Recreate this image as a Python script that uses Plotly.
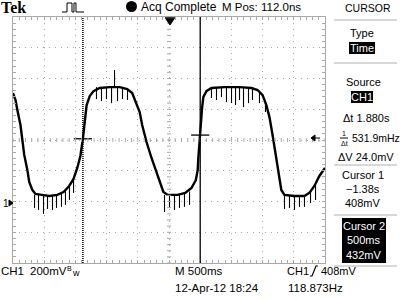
import plotly.graph_objects as go

# ---------------- data (seconds, volts) ----------------
trace_t = [-2.50, -2.46, -2.43, -2.38, -2.35, -2.32, -2.27, -2.24, -2.19, -2.14,
           -2.04, -1.92, -1.79, -1.69, -1.60, -1.53, -1.47, -1.42, -1.38, -1.35,
           -1.32, -1.27, -1.21, -1.11, -0.95, -0.79, -0.67, -0.59, -0.52, -0.47,
           -0.43, -0.36, -0.28, -0.20, -0.14, -0.09, -0.02, 0.14, 0.26, 0.36,
           0.43, 0.46, 0.47, 0.49, 0.50, 0.51, 0.53, 0.55, 0.60, 0.68,
           0.89, 1.13, 1.32, 1.42, 1.50, 1.56, 1.61, 1.66, 1.71, 1.76,
           1.80, 1.85, 2.01, 2.17, 2.25, 2.33, 2.41, 2.50]
trace_v = [0.705, 0.660, 0.595, 0.497, 0.400, 0.303, 0.205, 0.127, 0.075, 0.049,
           0.043, 0.036, 0.043, 0.062, 0.101, 0.147, 0.218, 0.296, 0.408, 0.530,
           0.627, 0.686, 0.718, 0.738, 0.744, 0.744, 0.731, 0.705, 0.640, 0.582,
           0.497, 0.387, 0.283, 0.192, 0.114, 0.062, 0.043, 0.043, 0.056, 0.088,
           0.140, 0.205, 0.283, 0.400, 0.432, 0.520, 0.608, 0.679, 0.718, 0.738,
           0.744, 0.744, 0.738, 0.725, 0.692, 0.627, 0.549, 0.432, 0.303, 0.173,
           0.075, 0.043, 0.036, 0.036, 0.056, 0.101, 0.166, 0.218]

# glitch spikes: time, start level, end level
spike_t = [-2.155, -2.091, -2.011, -1.947, -1.867, -1.803, -1.723, -1.659, -1.595, -1.530,
           -1.162, -1.082, -1.002, -0.921, -0.825, -0.745, -0.665, -0.873,
           -0.072, 0.008, 0.088, 0.168, 0.248, 0.329,
           0.681, 0.761, 0.841, 0.921, 1.002, 1.066, 1.130, 1.194, 1.274, 1.338, 1.450, 1.546,
           1.851, 1.931, 2.011, 2.091, 2.171, 2.268, 2.348]
spike_v0 = [0.043, 0.043, 0.043, 0.043, 0.043, 0.043, 0.050, 0.075, 0.101, 0.147,
            0.744, 0.744, 0.744, 0.744, 0.744, 0.744, 0.731, 0.744,
            0.043, 0.043, 0.043, 0.043, 0.050, 0.065,
            0.744, 0.744, 0.744, 0.744, 0.744, 0.744, 0.744, 0.744, 0.744, 0.744, 0.712, 0.640,
            0.036, 0.036, 0.036, 0.036, 0.036, 0.062, 0.114]
spike_v1 = [-0.042, -0.055, -0.081, -0.049, -0.055, -0.042, -0.035, -0.022, 0.010, 0.056,
            0.666, 0.653, 0.666, 0.640, 0.653, 0.666, 0.660, 0.855,
            -0.068, -0.042, -0.055, -0.042, -0.035, -0.022,
            0.673, 0.660, 0.679, 0.647, 0.640, 0.627, 0.660, 0.614, 0.640, 0.660, 0.640, 0.582,
            -0.048, -0.042, -0.055, -0.035, -0.035, -0.010, 0.010]

cursor_t = [-1.38, 0.50]
cursor_v = [0.408, 0.432]

# ---------------- geometry helpers (pixel -> paper) ----------------
L, R, T, B = 13, 325, 17, 263
def px(x):
    return (x - L) / (R - L)
def py(y):
    return (B - y) / (B - T)

FONT = "Liberation Sans, Arial, sans-serif"
GRID = "#a8a8a8"

fig = go.Figure()

sx, sy = [], []
for t, a, b in zip(spike_t, spike_v0, spike_v1):
    sx += [t, t, None]
    sy += [a, b, None]
fig.add_trace(go.Scatter(x=sx, y=sy, mode="lines", line=dict(color="black", width=1.1),
                         hoverinfo="skip", showlegend=False))
fig.add_trace(go.Scatter(x=trace_t, y=trace_v, mode="lines",
                         line=dict(color="black", width=2.4), showlegend=False))
fig.add_trace(go.Scatter(x=cursor_t, y=cursor_v, mode="markers",
                         marker=dict(symbol="line-ew", size=13, line=dict(color="black", width=1.3)),
                         showlegend=False))

shapes = []
# center graticule ticks
for k in range(51):
    t = -2.5 + k * 0.1
    shapes.append(dict(type="line", xref="x", yref="y", xsizemode="scaled", ysizemode="pixel",
                       x0=t, x1=t, yanchor=0.4, y0=-2, y1=2, line=dict(color=GRID, width=1)))
for k in range(41):
    v = -0.4 + k * 0.04
    shapes.append(dict(type="line", xref="x", yref="y", xsizemode="pixel",
                       xanchor=0, x0=-2, x1=2, y0=v, y1=v, line=dict(color=GRID, width=1)))
# cursors
shapes.append(dict(type="line", xref="x", yref="paper", x0=cursor_t[0], x1=cursor_t[0], y0=0, y1=1,
                   line=dict(color="black", width=1.5, dash="1px,1px")))
shapes.append(dict(type="line", xref="x", yref="paper", x0=cursor_t[1], x1=cursor_t[1], y0=0, y1=1,
                   line=dict(color="black", width=1.3)))

def path(d_pts, fill=None, width=1):
    d = ""
    for cmd, x, y in d_pts:
        if cmd == "Z":
            d += " Z"
        else:
            d += f" {cmd} {px(x):.5f},{py(y):.5f}"
    shapes.append(dict(type="path", xref="paper", yref="paper", path=d.strip(),
                       fillcolor=fill if fill else "rgba(0,0,0,0)",
                       line=dict(color="black", width=width)))

def rect(x0, y0, x1, y1, color="black"):
    shapes.append(dict(type="rect", xref="paper", yref="paper", x0=px(x0), x1=px(x1),
                       y0=py(y1), y1=py(y0), fillcolor=color, line=dict(width=0)))

def hline(x0, x1, y, color="#b0b0b0"):
    shapes.append(dict(type="line", xref="paper", yref="paper", x0=px(x0), x1=px(x1),
                       y0=py(y), y1=py(y), line=dict(color=color, width=1)))

# trigger position marker (top)
path([("M", 165, 18), ("L", 175, 18), ("Z", 0, 0)], width=1.5)
path([("M", 166, 19), ("L", 174, 19), ("L", 170, 25), ("Z", 0, 0)], fill="black")
# ground marker
path([("M", 9, 200), ("L", 13, 203), ("L", 9, 206), ("Z", 0, 0)], fill="black")
# readout arrow on right
path([("M", 311, 138), ("L", 315, 135), ("L", 315, 141), ("Z", 0, 0)], fill="black")
path([("M", 314, 138), ("L", 320, 138)], width=1)
# trigger pulse icon
path([("M", 62, 12), ("L", 67, 12), ("L", 67, 3), ("L", 72, 3), ("L", 72, 12),
      ("L", 74, 12), ("L", 74, 3), ("L", 76, 3), ("L", 76, 12), ("L", 84, 12)], width=1)
# slope symbol bottom
path([("M", 310, 276), ("L", 312, 276), ("L", 316, 266), ("L", 318, 266)], width=1.2)
# acq dot
shapes.append(dict(type="circle", xref="paper", yref="paper", x0=px(126), x1=px(137),
                   y0=py(12), y1=py(1), fillcolor="black", line=dict(width=0)))
# right panel separators
for yy in (20, 63, 165, 215, 266):
    hline(334, 397, yy)
# inverse boxes
rect(349, 42, 375, 54)
rect(351, 91, 373, 103)
rect(342, 218, 386, 263)
# 1/dt fraction bar
hline(340, 348, 138, color="black")

ann = []
def txt(s, x, y, size=11, anchor="left", color="black", family=FONT, bold=False):
    if bold:
        s = f"<b>{s}</b>"
    ann.append(dict(text=s, x=px(x), y=py(y), xref="paper", yref="paper", xanchor=anchor,
                    yanchor="middle", showarrow=False, borderpad=0,
                    font=dict(size=size, color=color, family=family)))

txt("Tek", 0, 8, size=16, family="Liberation Serif, Times New Roman, serif", bold=True)
txt("Acq Complete", 140, 7, size=12)
txt("M Pos: 112.0ns", 221, 7, size=11.5)
txt("CURSOR", 368, 8, size=10.5, anchor="center")
txt("Type", 362, 33, size=11, anchor="center")
txt("Time", 362, 48, size=11, anchor="center", color="white")
txt("Source", 363, 82, size=11, anchor="center")
txt("CH1", 362, 97, size=11, anchor="center", color="white")
txt("Δt 1.880s", 366, 118, size=11, anchor="center")
txt("1", 344, 133, size=7, anchor="center")
txt("Δt", 344, 143, size=7, anchor="center")
txt("531.9mHz", 351, 138, size=10.5)
txt("ΔV 24.0mV", 366, 157, size=11, anchor="center")
txt("Cursor 1", 363, 175, size=11, anchor="center")
txt("−1.38s", 363, 189, size=11, anchor="center")
txt("408mV", 363, 203, size=11, anchor="center")
txt("Cursor 2", 364, 226, size=11, anchor="center", color="white")
txt("500ms", 364, 240, size=11, anchor="center", color="white")
txt("432mV", 364, 255, size=11, anchor="center", color="white")
txt("1", 2, 203, size=10)
txt("CH1", 0, 271, size=11.5)
txt("200mV", 29, 271, size=11.5)
txt("B", 66, 268, size=7)
txt("w", 71, 273, size=9)
txt("M 500ms", 174, 271, size=11.5)
txt("12-Apr-12 18:24", 174, 288, size=11.5)
txt("CH1", 286, 271, size=11)
txt("408mV", 320, 271, size=11)
txt("118.873Hz", 287, 288, size=11.5)

axis_common = dict(showgrid=True, gridcolor=GRID, griddash="1px,5px", gridwidth=1,
                   showline=True, linecolor=GRID, linewidth=1, mirror="ticks",
                   ticks="inside", ticklen=3, tickcolor=GRID, showticklabels=False,
                   zeroline=False, fixedrange=True)

fig.update_layout(
    width=400, height=300,
    margin=dict(l=L, r=400 - R, t=T, b=300 - B, pad=0),
    paper_bgcolor="white", plot_bgcolor="white",
    xaxis=dict(range=[-2.5, 2.5], tick0=0, dtick=0.5,
               minor=dict(dtick=0.1, ticks="inside", ticklen=3, tickcolor=GRID, showgrid=False),
               **axis_common),
    yaxis=dict(range=[-0.4, 1.2], tick0=0, dtick=0.2,
               minor=dict(dtick=0.04, ticks="inside", ticklen=3, tickcolor=GRID, showgrid=False),
               **axis_common),
    shapes=shapes, annotations=ann, showlegend=False,
)

fig.write_html("out.html", config={"displayModeBar": False})
